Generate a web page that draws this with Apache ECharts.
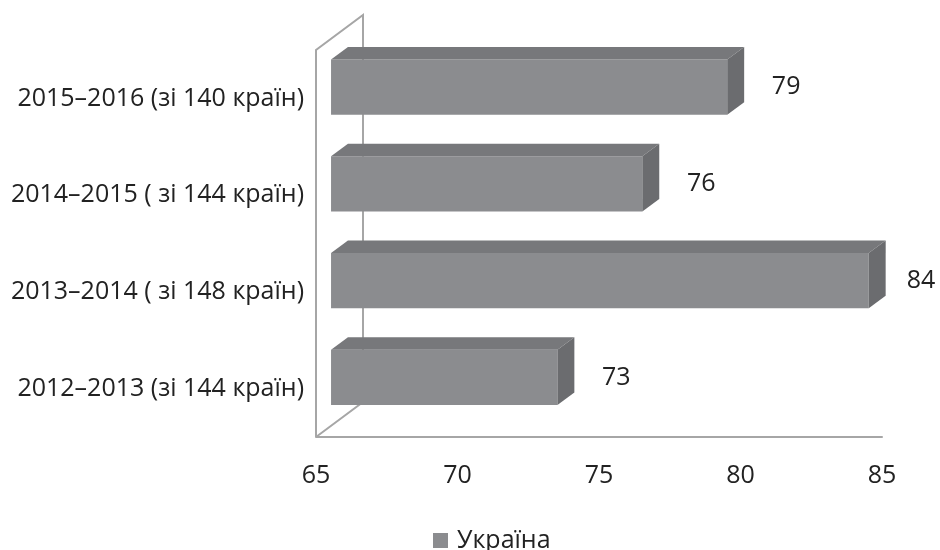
<!DOCTYPE html>
<html><head><meta charset="utf-8">
<script src="https://cdn.jsdelivr.net/npm/echarts@6/dist/echarts.min.js"></script>
<style>html,body{margin:0;padding:0;background:#fff}#c{width:940px;height:550px}</style>
</head><body><div id="c"></div>
<script>
const categories = ['2015–2016 (зі 140 країн)', '2014–2015 ( зі 144 країн)', '2013–2014 ( зі 148 країн)', '2012–2013 (зі 144 країн)'];
const values = [79, 76, 84, 73];
const seriesName = 'Україна';
const xTicks = { min: 65, max: 85, interval: 5 };

const FONT = '"Open Sans", sans-serif';
const FS = 25;
const DEPTH = [47, -35];
const T_FRONT = 0.32, T_BACK = 0.68;
const C_FRONT = '#8b8c8f', C_TOP = '#77787b', C_SIDE = '#6b6c6f', WALL = '#a6a6a6';

const chart = echarts.init(document.getElementById('c'), null, { renderer: 'canvas' });

function renderBox(params, api) {
  const cs = params.coordSys;
  const cat = api.value(0), val = api.value(1);
  const base = api.coord([xTicks.min, cat]);
  const end = api.coord([val, cat]);
  const band = api.size([0, 1])[1];
  const h = band * 0.57;
  const fdx = DEPTH[0] * T_FRONT, fdy = DEPTH[1] * T_FRONT;
  const bdx = DEPTH[0] * T_BACK, bdy = DEPTH[1] * T_BACK;
  const x0 = base[0] + fdx, x1 = end[0] + fdx;
  const yc = base[1] + fdy;
  const y0 = yc - h / 2, y1 = yc + h / 2;
  const ox = bdx - fdx, oy = bdy - fdy;
  const children = [];
  if (params.dataIndex === 0) {
    const L = cs.x, B = cs.y + cs.height, T = cs.y;
    children.push({ type: 'polyline', shape: { points: [[L, B], [L, T], [L + DEPTH[0], T + DEPTH[1]], [L + DEPTH[0], B + DEPTH[1]], [L, B]] },
      style: { stroke: WALL, lineWidth: 2, fill: null }, z2: 0 });
  }
  children.push({ type: 'rect', shape: { x: x0, y: y0, width: x1 - x0, height: h }, style: { fill: C_FRONT }, z2: 5 });
  children.push({ type: 'polygon', shape: { points: [[x0, y0], [x0 + ox, y0 + oy], [x1 + ox, y0 + oy], [x1, y0]] }, style: { fill: C_TOP }, z2: 5 });
  children.push({ type: 'polygon', shape: { points: [[x1, y0], [x1 + ox, y0 + oy], [x1 + ox, y1 + oy], [x1, y1]] }, style: { fill: C_SIDE }, z2: 5 });
  const lx = Math.min(x1 + ox + 42, api.getWidth() - 19);
  children.push({ type: 'text', style: { x: lx, y: yc, text: String(val), fill: '#222', font: FS + 'px ' + FONT, textAlign: 'center', textVerticalAlign: 'middle' }, z2: 6 });
  return { type: 'group', children };
}

chart.setOption({
  animation: false,
  grid: { left: 316, right: 58, top: 50, bottom: 113, containLabel: false },
  legend: { top: 528, left: 433, padding: 0, data: [seriesName], icon: 'rect', itemWidth: 15, itemHeight: 15, itemGap: 5,
    textStyle: { fontSize: FS, color: '#222', fontFamily: FONT, padding: [0, 0, 0, 4] } },
  xAxis: { type: 'value', min: xTicks.min, max: xTicks.max, interval: xTicks.interval,
    axisLine: { show: true, lineStyle: { color: WALL, width: 2 } }, axisTick: { show: false }, splitLine: { show: false },
    axisLabel: { fontSize: FS, color: '#222', fontFamily: FONT, margin: 26 } },
  yAxis: { type: 'category', data: categories, inverse: true,
    axisLine: { show: false }, axisTick: { show: false },
    axisLabel: { fontSize: FS, color: '#222', fontFamily: FONT, margin: 12, padding: [7, 0, 0, 0] } },
  series: [{ name: seriesName, type: 'custom', renderItem: renderBox, itemStyle: { color: C_FRONT },
    encode: { x: 1, y: 0 }, data: values.map((v, i) => [i, v]) }]
});
</script></body></html>
